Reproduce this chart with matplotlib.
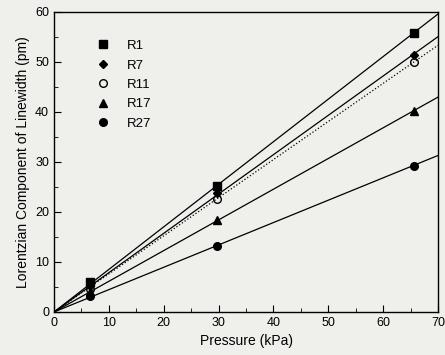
import numpy as np
import matplotlib
matplotlib.use("Agg")
import matplotlib.pyplot as plt
from matplotlib.ticker import MultipleLocator

plt.rcParams['font.family'] = ['Liberation Sans', 'DejaVu Sans']

# Pressures (kPa) and Lorentzian linewidth (pm) per transition
pressure = [6.5, 29.7, 65.6]
r1 = [6.0, 25.3, 55.8]
r7 = [5.2, 23.8, 51.4]
r11 = [4.6, 22.7, 50.0]
r17 = [4.0, 18.4, 40.2]
r27 = [3.2, 13.3, 29.3]

series = [
    ("R1", r1, "s", "k", "-"),
    ("R7", r7, "D", "k", "-"),
    ("R11", r11, "o", "none", ":"),
    ("R17", r17, "^", "k", "-"),
    ("R27", r27, "o", "k", "-"),
]

bg = "#efefec"
fig = plt.figure(figsize=(4.45, 3.55), dpi=100, facecolor=bg)
ax = fig.add_axes([54 / 445, 43 / 355, 384 / 445, 300 / 355])
ax.set_facecolor(bg)

x = np.array(pressure)
xfit = np.array([0, 70])
for name, vals, mk, fc, ls in series:
    y = np.array(vals)
    slope = (x @ y) / (x @ x)
    ax.plot(xfit, slope * xfit, color='k', lw=0.9, ls=ls)
    size = 4.5 if mk == "D" else 5.5
    ax.plot(x, y, ls='none', marker=mk, ms=size, mfc=fc, mec='k',
            mew=1.0, label=name)

ax.set_xlim(0, 70)
ax.set_ylim(0, 60)
ax.xaxis.set_major_locator(MultipleLocator(10))
ax.xaxis.set_minor_locator(MultipleLocator(5))
ax.yaxis.set_major_locator(MultipleLocator(10))
ax.yaxis.set_minor_locator(MultipleLocator(5))
ax.tick_params(which='both', direction='in', labelsize=9)
ax.tick_params(which='major', length=5)
ax.tick_params(which='minor', length=3)
for s in ax.spines.values():
    s.set_linewidth(1.0)

ax.set_xlabel('Pressure (kPa)', fontsize=10)
ax.set_ylabel('Lorentzian Component of Linewidth (pm)', fontsize=10)

ax.legend(loc='upper left', bbox_to_anchor=(0.08, 0.947), frameon=False,
          fontsize=9.5, handlelength=1.0, handletextpad=1.3,
          labelspacing=0.55, numpoints=1)

fig.savefig('out.png', dpi=100, facecolor=bg)
